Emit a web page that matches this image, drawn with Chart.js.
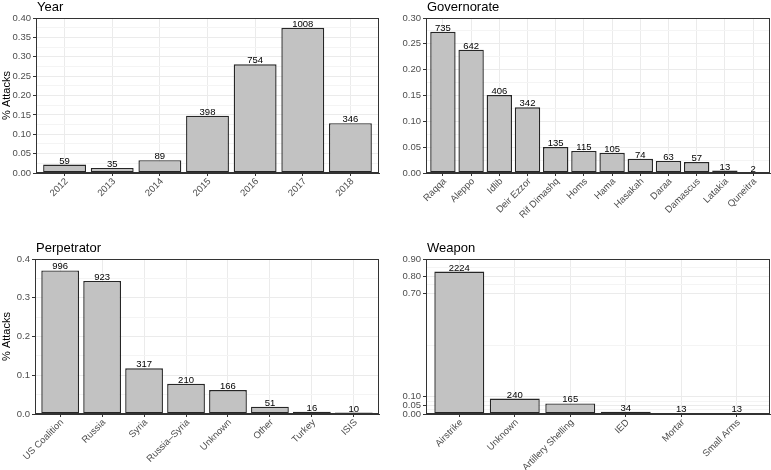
<!DOCTYPE html>
<html>
<head>
<meta charset="utf-8">
<script src="https://cdn.jsdelivr.net/npm/chart.js@4.4.0/dist/chart.umd.min.js"></script>
<style>
  body { margin: 0; background: #fff; }
  .panel { position: absolute; }
</style>
</head>
<body>
<div class="panel" style="left:0;top:0"><canvas id="yearChart" width="385" height="235"></canvas></div>
<div class="panel" style="left:385px;top:0"><canvas id="govChart" width="386" height="235"></canvas></div>
<div class="panel" style="left:0;top:235px"><canvas id="perpChart" width="385" height="235"></canvas></div>
<div class="panel" style="left:385px;top:235px"><canvas id="weaponChart" width="386" height="235"></canvas></div>
<script>
// Attack counts and shares (share of 2689 attacks) per facet
const yearLabels = ["2012", "2013", "2014", "2015", "2016", "2017", "2018"];
const yearCounts = [59, 35, 89, 398, 754, 1008, 346];
const yearShare = [0.0219, 0.0130, 0.0331, 0.1480, 0.2804, 0.3749, 0.1287];
const yearTicks = [0, 0.05, 0.10, 0.15, 0.20, 0.25, 0.30, 0.35, 0.40];
const yearMinor = [0.025, 0.075, 0.125, 0.175, 0.225, 0.275, 0.325, 0.375];

const govLabels = ["Raqqa", "Aleppo", "Idlib", "Deir Ezzor", "Rif Dimashq", "Homs", "Hama",
  "Hasakah", "Daraa", "Damascus", "Latakia", "Quneitra"];
const govCounts = [735, 642, 406, 342, 135, 115, 105, 74, 63, 57, 13, 2];
const govShare = [0.2733, 0.2387, 0.1510, 0.1272, 0.0502, 0.0428, 0.0390, 0.0275, 0.0234, 0.0212, 0.0048, 0.0007];
const govTicks = [0, 0.05, 0.10, 0.15, 0.20, 0.25, 0.30];
const govMinor = [0.025, 0.075, 0.125, 0.175, 0.225, 0.275];

const perpLabels = ["US Coalition", "Russia", "Syria", "Russia\u2013Syria", "Unknown", "Other", "Turkey", "ISIS"];
const perpCounts = [996, 923, 317, 210, 166, 51, 16, 10];
const perpShare = [0.3704, 0.3433, 0.1179, 0.0781, 0.0617, 0.0190, 0.0060, 0.0037];
const perpTicks = [0, 0.1, 0.2, 0.3, 0.4];
const perpMinor = [0.05, 0.15, 0.25, 0.35];

const weaponLabels = ["Airstrike", "Unknown", "Artillery Shelling", "IED", "Mortar", "Small Arms"];
const weaponCounts = [2224, 240, 165, 34, 13, 13];
const weaponShare = [0.8271, 0.0893, 0.0614, 0.0126, 0.0048, 0.0048];
const weaponTicks = [0, 0.05, 0.10, 0.70, 0.80, 0.90];
const weaponMinor = [0.025, 0.075, 0.40, 0.75, 0.85];

const FONT = "'Liberation Sans', Arial, Helvetica, sans-serif";

// facet title, panel frame and count labels
const facetPlugin = {
  id: "facet",
  afterDatasetsDraw(chart, args, opts) {
    const ctx = chart.ctx;
    const meta = chart.getDatasetMeta(0);
    ctx.save();
    ctx.fillStyle = "#000";
    ctx.font = "9.5px " + FONT;
    ctx.textAlign = "center";
    ctx.textBaseline = "alphabetic";
    meta.data.forEach((bar, i) => {
      ctx.fillText(String(opts.counts[i]), bar.x, bar.y - 1);
    });
    ctx.restore();
  },
  afterDraw(chart, args, opts) {
    const ctx = chart.ctx;
    const a = chart.chartArea;
    ctx.save();
    ctx.strokeStyle = "#333";
    ctx.lineWidth = 1;
    ctx.strokeRect(Math.round(a.left) + 0.5, Math.round(a.top) + 0.5,
      Math.round(a.right - a.left) - 1, Math.round(a.bottom - a.top) - 1);
    ctx.fillStyle = "#000";
    ctx.font = "13px " + FONT;
    ctx.textAlign = "left";
    ctx.textBaseline = "alphabetic";
    ctx.fillText(opts.title, a.left + 1, a.top - 7.5);
    ctx.restore();
  }
};

function makeChart(id, cfg) {
  const n = cfg.labels.length;
  const majors = cfg.ticks;
  const allTicks = majors.concat(cfg.minor).sort((p, q) => p - q);
  const isMajor = v => majors.some(m => Math.abs(m - v) < 1e-9);
  return new Chart(document.getElementById(id), {
    type: "bar",
    data: {
      datasets: [{
        data: cfg.share.map((v, i) => ({ x: i + 1, y: v })),
        backgroundColor: "#c2c2c2",
        borderColor: "#262626",
        borderWidth: 1.4,
        borderSkipped: false,
        barPercentage: 0.9,
        categoryPercentage: 1
      }]
    },
    options: {
      responsive: false,
      animation: false,
      layout: { padding: { top: cfg.top, right: cfg.right, left: 0, bottom: 0 } },
      plugins: {
        legend: { display: false },
        tooltip: { enabled: false },
        facet: { title: cfg.title, counts: cfg.counts }
      },
      scales: {
        x: {
          type: "linear",
          min: 0.4,
          max: n + 0.6,
          offset: false,
          afterBuildTicks: s => { s.ticks = cfg.labels.map((_, i) => ({ value: i + 1 })); },
          afterFit: s => { s.height = cfg.bottom; },
          grid: { offset: false, color: "#ebebeb", tickColor: "#333", tickLength: 3 },
          border: { color: "#333" },
          ticks: {
            autoSkip: false,
            minRotation: 45,
            maxRotation: 45,
            padding: 0,
            labelOffset: 2,
            color: "#4d4d4d",
            font: { family: FONT, size: 9.5 },
            callback: v => cfg.labels[Math.round(v) - 1]
          }
        },
        y: {
          min: 0,
          max: majors[majors.length - 1],
          afterBuildTicks: s => { s.ticks = allTicks.map(v => ({ value: v })); },
          afterFit: s => { s.width = cfg.left; },
          grid: {
            color: c => isMajor(c.tick.value) ? "#ebebeb" : "#f4f4f4",
            tickColor: c => isMajor(c.tick.value) ? "#333" : "rgba(0,0,0,0)",
            tickLength: 3
          },
          border: { color: "#333" },
          title: {
            display: !!cfg.yTitle,
            text: cfg.yTitle || "",
            color: "#000",
            padding: { top: 0, bottom: 0 },
            font: { family: FONT, size: 11 }
          },
          ticks: {
            autoSkip: false,
            padding: 2,
            color: "#4d4d4d",
            font: { family: FONT, size: 9.5 },
            callback: v => isMajor(v) ? v.toFixed(cfg.decimals) : ""
          }
        }
      }
    },
    plugins: [facetPlugin]
  });
}

makeChart("yearChart", {
  title: "Year", labels: yearLabels, counts: yearCounts, share: yearShare,
  ticks: yearTicks, minor: yearMinor, decimals: 2, yTitle: "% Attacks",
  left: 36, top: 18, right: 6, bottom: 62
});
makeChart("govChart", {
  title: "Governorate", labels: govLabels, counts: govCounts, share: govShare,
  ticks: govTicks, minor: govMinor, decimals: 2,
  left: 41, top: 18, right: 1, bottom: 62
});
makeChart("perpChart", {
  title: "Perpetrator", labels: perpLabels, counts: perpCounts, share: perpShare,
  ticks: perpTicks, minor: perpMinor, decimals: 1, yTitle: "% Attacks",
  left: 35, top: 24, right: 6, bottom: 56
});
makeChart("weaponChart", {
  title: "Weapon", labels: weaponLabels, counts: weaponCounts, share: weaponShare,
  ticks: weaponTicks, minor: weaponMinor, decimals: 2,
  left: 41, top: 24, right: 1, bottom: 56
});
</script>
</body>
</html>
